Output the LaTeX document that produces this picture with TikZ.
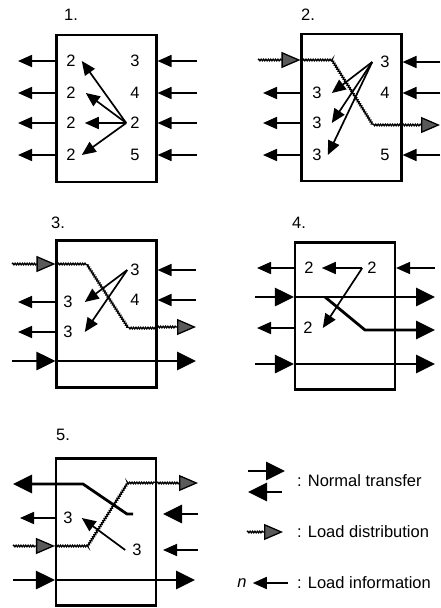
\documentclass[tikz,border=0pt]{standalone}
\usepackage{fontspec}
\setmainfont{Liberation Sans}
\usetikzlibrary{arrows.meta,decorations.pathmorphing}
\definecolor{loadgrey}{HTML}{5A5A5A}
\newcommand{\numfont}{\fontsize{16.5}{18}\selectfont}
\newcommand{\legendfont}{\fontsize{16.5}{18}\selectfont}
\tikzset{
  panel/.style={draw,line width=2.1pt,minimum width=100pt,minimum height=147pt,inner sep=0pt},
  num/.style={inner sep=0pt,font=\numfont},
  title/.style={inner sep=0pt,font=\numfont},
  legendtext/.style={inner sep=0pt,anchor=west,font=\legendfont},
  infoarrow/.style={line width=1.7pt,-{Triangle[length=14pt,width=12pt]}},
  transferline/.style={line width=2.8pt},
  transferarrow/.style={line width=2.8pt,-{Triangle[length=19pt,width=18pt]}},
  loadline/.style={line width=1.3pt,decorate,decoration={snake,amplitude=0.8pt,segment length=2.4pt}},
  loadarrow/.style={loadline,decoration={post length=19pt},
    -{Triangle[length=19pt,width=16pt,fill=loadgrey]}},
}

\begin{document}
\begin{tikzpicture}[x=1pt,y=-1pt]
  \useasboundingbox (0,0) rectangle (440,608);

  % Panel 1.
  \node[panel] (b1) at (106.5,108.5) {};
  \node[title] (t1) at (71,15) {1.};
  \coordinate (w1) at (18,0);
  \coordinate (e1) at (197,0);
  \foreach \i/\y in {1/61,2/93,3/123,4/155}{
    \node[num] (l1\i) at (71,\y) {2};
  }
  \node[num] (r11) at (135,61) {3};
  \node[num] (r12) at (135,93) {4};
  \node[num] (r13) at (135,123) {2};
  \node[num] (r14) at (135,155) {5};
  \foreach \i in {1,...,4}{
    \draw[infoarrow] (b1.west |- l1\i) -- (w1 |- l1\i);
    \draw[infoarrow] (e1 |- r1\i) -- (b1.east |- r1\i);
  }
  \draw[infoarrow] ([xshift=-4pt]r13.west) -- ([xshift=6pt]l11.east);
  \draw[infoarrow] ([xshift=-4pt]r13.west) -- ([xshift=10pt]l12.east);
  \draw[infoarrow] ([xshift=-4pt]r13.west) -- ([xshift=9pt]l13.east);
  \draw[infoarrow] ([xshift=-4pt]r13.west) -- ([xshift=6pt]l14.east);

  % Panel 2.
  \node[panel] (b2) at (351.5,107.5) {};
  \node[title] (t2) at (308,15) {2.};
  \coordinate (s2) at (258,0);
  \coordinate (w2) at (263,0);
  \coordinate (e2) at (440,0);
  \coordinate (k2a) at (332,60);
  \coordinate (k2b) at (373,125);
  \node[num] (r21) at (385,62) {3};
  \node[num] (r22) at (385,93) {4};
  \node[num] (r24) at (385,155) {5};
  \foreach \i/\y in {2/93,3/123,4/155}{
    \node[num] (l2\i) at (317,\y) {3};
    \draw[infoarrow] (b2.west |- l2\i) -- (w2 |- l2\i);
  }
  \foreach \i in {1,2,4}{
    \draw[infoarrow] (e2 |- r2\i) -- (b2.east |- r2\i);
  }
  \draw[loadarrow] (s2 |- k2a) -- (b2.west |- k2a);
  \draw[loadline] (b2.west |- k2a) -- (k2a) -- (k2b) -- (b2.east |- k2b);
  \draw[loadarrow] (b2.east |- k2b) -- (e2 |- k2b);
  \draw[infoarrow] ([xshift=-8pt]r21.west) -- ([xshift=10pt]l22.east);
  \draw[infoarrow] ([xshift=-8pt]r21.west) -- ([xshift=10pt]l23.east);
  \draw[infoarrow] ([xshift=-8pt]r21.west) -- ([xshift=6pt]l24.east);

  % Panel 3.
  \node[panel] (b3) at (106.5,314) {};
  \node[title] (t3) at (58,223) {3.};
  \coordinate (s3) at (12,0);
  \coordinate (w3) at (18,0);
  \coordinate (e3) at (196,0);
  \coordinate (k3a) at (86,264);
  \coordinate (k3b) at (127,327);
  \coordinate (m3) at (12,361);
  \node[num] (r31) at (135,270) {3};
  \node[num] (r32) at (135,300) {4};
  \node[num] (l32) at (68,302) {3};
  \node[num] (l33) at (68,332) {3};
  \foreach \i in {1,2}{
    \draw[infoarrow] (e3 |- r3\i) -- (b3.east |- r3\i);
  }
  \foreach \i in {2,3}{
    \draw[infoarrow] (b3.west |- l3\i) -- (w3 |- l3\i);
  }
  \draw[loadarrow] (s3 |- k3a) -- (b3.west |- k3a);
  \draw[loadline] (b3.west |- k3a) -- (k3a) -- (k3b) -- (b3.east |- k3b);
  \draw[loadarrow] (b3.east |- k3b) -- (e3 |- k3b);
  \draw[transferarrow] (m3) -- (b3.west |- m3);
  \draw[transferarrow] (b3.west |- m3) -- (e3 |- m3);
  \draw[infoarrow] ([xshift=-3pt]r31.west) -- ([xshift=12pt]l32.east);
  \draw[infoarrow] ([xshift=-3pt]r31.west) -- ([xshift=12pt]l33.east);

  % Panel 4.
  \node[panel] (b4) at (345,316) {};
  \node[title] (t4) at (299,223) {4.};
  \coordinate (w4) at (257,0);
  \coordinate (e4) at (435,0);
  \coordinate (m4) at (255,297);
  \coordinate (n4) at (255,364);
  \coordinate (k4a) at (325,297);
  \coordinate (k4b) at (365,330);
  \node[num] (l41) at (309,268) {2};
  \node[num] (r41) at (372,268) {2};
  \node[num] (l42) at (308,328) {2};
  \draw[infoarrow] (b4.west |- l41) -- (w4 |- l41);
  \draw[infoarrow] (b4.west |- l42) -- (w4 |- l42);
  \draw[infoarrow] (e4 |- r41) -- (b4.east |- r41);
  \draw[transferarrow] (m4) -- (b4.west |- m4);
  \draw[transferarrow] (b4.west |- m4) -- (e4 |- m4);
  \draw[transferarrow] (k4a) -- (k4b) -- (e4 |- k4b);
  \draw[transferarrow] (n4) -- (b4.west |- n4);
  \draw[transferarrow] (b4.west |- n4) -- (e4 |- n4);
  \draw[infoarrow] ([xshift=-5pt]r41.west) -- ([xshift=8pt]l41.east);
  \draw[infoarrow] ([xshift=-5pt]r41.west) -- ([xshift=10pt]l42.east);

  % Panel 5.
  \node[panel] (b5) at (106,532) {};
  \node[title] (t5) at (63,435) {5.};
  \coordinate (s5) at (13,0);
  \coordinate (w5) at (20,0);
  \coordinate (g5) at (163,0);
  \coordinate (e5) at (198,0);
  \coordinate (k5a) at (83,484);
  \coordinate (k5b) at (127,514);
  \coordinate (k5c) at (133,514);
  \coordinate (k5d) at (88,546);
  \coordinate (k5e) at (128,483);
  \coordinate (m5) at (13,580);
  \node[num] (l5) at (68,518) {3};
  \node[num] (r5) at (137,550) {3};
  \draw[transferarrow] (k5c) -- (k5b) -- (k5a) -- (s5 |- k5a);
  \draw[transferarrow] (e5 |- k5c) -- (g5 |- k5c);
  \draw[loadarrow] (s5 |- k5d) -- (b5.west |- k5d);
  \draw[loadline] (b5.west |- k5d) -- (k5d) -- (k5e) -- (b5.east |- k5e);
  \draw[loadarrow] (b5.east |- k5e) -- (e5 |- k5e);
  \draw[infoarrow] (b5.west |- l5) -- (w5 |- l5);
  \draw[infoarrow] (e5 |- r5) -- (g5 |- r5);
  \draw[transferarrow] (m5) -- (b5.west |- m5);
  \draw[transferarrow] (b5.west |- m5) -- ([xshift=-3pt]e5 |- m5);
  \draw[infoarrow] ([xshift=-7pt]r5.west) -- ([xshift=9pt]l5.east);

  % Legend.
  \coordinate (nt1) at (248,471);
  \coordinate (nt2) at (285,471);
  \coordinate (nt3) at (282,492);
  \coordinate (nt4) at (248,492);
  \coordinate (ld1) at (247,532);
  \coordinate (ld2) at (283,532);
  \coordinate (li1) at (288,583);
  \node[legendtext] (lg1) at (297,481) {: Normal transfer};
  \node[legendtext] (lg2) at (297,532) {: Load distribution};
  \node[legendtext] (lg3) at (297,583) {: Load information};
  \node[num] (nn) at (242,583) {\itshape n};
  \draw[transferarrow] (nt1) -- (nt2);
  \draw[transferarrow] (nt3) -- (nt4);
  \draw[loadarrow] (ld1) -- (ld2);
  \draw[infoarrow] (li1) -- ([xshift=6pt]nn.east);
\end{tikzpicture}
\end{document}
